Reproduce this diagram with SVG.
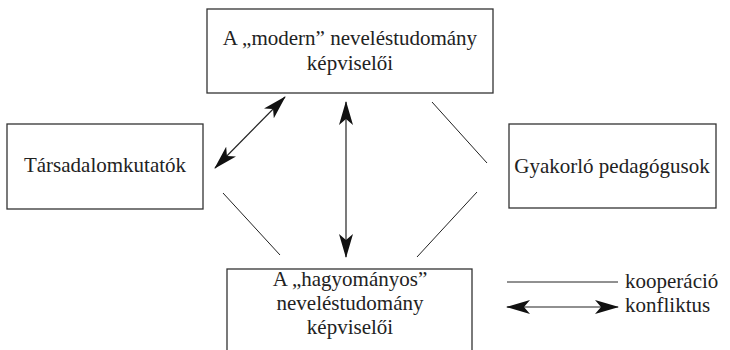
<svg xmlns="http://www.w3.org/2000/svg" width="730" height="350" viewBox="0 0 730 350">
<style>
.box{fill:#fff;stroke:#333;stroke-width:1.3}
.t{font-family:"Liberation Serif","Times New Roman",serif;font-size:21px;fill:#222;text-anchor:middle}
.tl{font-family:"Liberation Serif","Times New Roman",serif;font-size:21px;fill:#222}
.c{stroke:#222;stroke-width:1;fill:none}
.a{stroke:#222;stroke-width:1.2;fill:none;marker-start:url(#ah);marker-end:url(#ah)}
</style>
<defs>
<marker id="ah" markerUnits="userSpaceOnUse" viewBox="0 0 24 14" markerWidth="24" markerHeight="14" refX="23" refY="7" orient="auto-start-reverse">
<path d="M0,0 L24,7 L0,14 L6,7 z" fill="#111"/>
</marker>
</defs>
<rect width="730" height="350" fill="#fff"/>
<g id="modern">
<rect class="box" x="207" y="9" width="286" height="84"/>
<text class="t" x="350" y="45">A „modern” neveléstudomány</text>
<text class="t" x="350" y="70">képviselői</text>
</g>
<g id="tarsadalomkutatok">
<rect class="box" x="7" y="124" width="196" height="85"/>
<text class="t" x="105" y="172">Társadalomkutatók</text>
</g>
<g id="gyakorlo">
<rect class="box" x="509" y="124" width="207" height="84"/>
<text class="t" x="612" y="173">Gyakorló pedagógusok</text>
</g>
<g id="hagyomanyos">
<rect class="box" x="227" y="269" width="245" height="90"/>
<text class="t" x="350" y="286">A „hagyományos”</text>
<text class="t" x="350" y="310">neveléstudomány</text>
<text class="t" x="350" y="334">képviselői</text>
</g>
<g id="connectors">
<line class="a" x1="285" y1="97" x2="215" y2="168"/>
<line class="a" x1="346" y1="102" x2="346" y2="257"/>
<line class="c" x1="432" y1="102" x2="487" y2="163"/>
<line class="c" x1="477" y1="192" x2="417" y2="257"/>
<line class="c" x1="223" y1="193" x2="280" y2="255"/>
</g>
<g id="legend">
<line class="c" x1="507" y1="282" x2="618" y2="282"/>
<line class="a" x1="507" y1="307" x2="618" y2="307"/>
<text class="tl" x="625" y="288">kooperáció</text>
<text class="tl" x="625" y="312">konfliktus</text>
</g>
</svg>
